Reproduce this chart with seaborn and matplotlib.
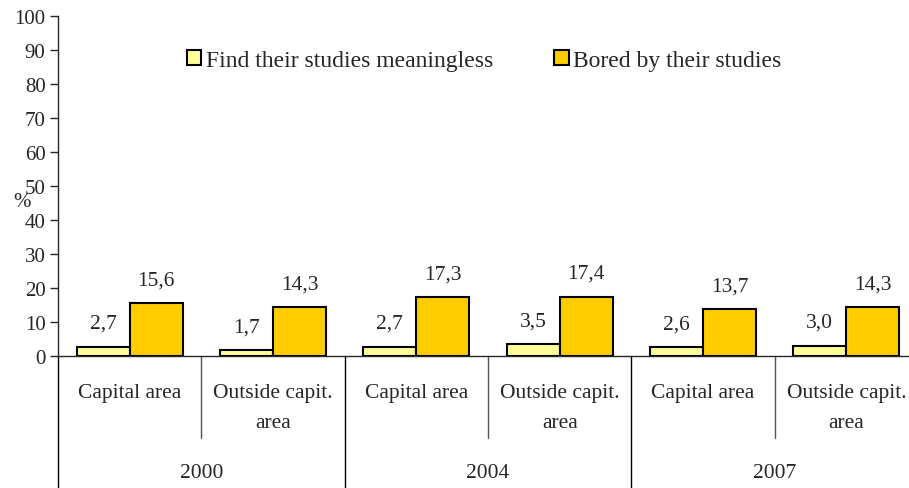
import matplotlib
matplotlib.use("Agg")
import matplotlib.pyplot as plt
import seaborn as sns
import pandas as pd
from matplotlib.transforms import blended_transform_factory
from matplotlib.patches import Patch

years = ["2000", "2004", "2007"]
areas = ["Capital area", "Outside capit.\narea"]
categories = ["2000 Capital", "2000 Outside", "2004 Capital", "2004 Outside", "2007 Capital", "2007 Outside"]
meaningless = [2.7, 1.7, 2.7, 3.5, 2.6, 3.0]
bored = [15.6, 14.3, 17.3, 17.4, 13.7, 14.3]
series_names = ["Find their studies meaningless", "Bored by their studies"]
colors = ["#FFFF99", "#FFCC00"]

sns.set_style("white")
plt.rcParams['font.family'] = ['Liberation Serif', 'DejaVu Serif']

df = pd.DataFrame({
    "cat": categories * 2,
    "value": meaningless + bored,
    "series": [series_names[0]] * 6 + [series_names[1]] * 6,
})

fig = plt.figure(figsize=(9.09, 4.89), dpi=100)
ax = fig.add_axes([58/909, 132/489, 860/909, 340/489])

sns.barplot(data=df, x="cat", y="value", hue="series", order=categories,
            hue_order=series_names, palette=colors, width=0.74,
            edgecolor="black", linewidth=1.5, ax=ax, legend=False, saturation=1)

ax.set_xlim(-0.5, 5.5)
ax.set_ylim(0, 100)
ax.set_yticks(range(0, 101, 10))
ax.tick_params(axis='y', labelsize=15, length=6, width=1, direction='out', left=True, pad=3)
ax.set_xticks([])
ax.set_xlabel("")
ax.set_ylabel("")
for s in ["top", "right"]:
    ax.spines[s].set_visible(False)
ax.spines["left"].set_linewidth(1)
ax.spines["bottom"].set_linewidth(1)

# value labels
for container in ax.containers:
    labels = [f"{v:.1f}".replace(".", ",") for v in container.datavalues]
    ax.bar_label(container, labels=labels, padding=10, fontsize=15.5)

# multi-level axis
tr = blended_transform_factory(ax.transData, ax.transAxes)
for b in [0.5, 2.5, 4.5]:
    ax.plot([b, b], [0, -0.241], color="#555555", lw=1, transform=tr, clip_on=False)
for b in [-0.5, 1.5, 3.5, 5.5]:
    ax.plot([b, b], [0, -0.40], color="black", lw=1, transform=tr, clip_on=False)

for i in range(6):
    ax.text(i, -0.08, areas[i % 2], transform=tr, ha="center", va="top",
            fontsize=15.5, linespacing=1.75)
for j, y in enumerate(years):
    ax.text(2 * j + 0.5, -0.343, y, transform=tr, ha="center", va="center", fontsize=15.5)

fig.text(22/909, 1 - 203/489, "%", ha="center", va="center", fontsize=15)

handles = [Patch(facecolor=c, edgecolor="black", linewidth=1.5) for c in colors]
fig.legend(handles, series_names, loc="center left", bbox_to_anchor=(168/909, 1 - 61/489),
           ncol=2, frameon=False, fontsize=17, handlelength=0.6, handleheight=0.6,
           handletextpad=0.2, columnspacing=2.6, borderpad=0.3)

fig.savefig("out.png", dpi=100)
